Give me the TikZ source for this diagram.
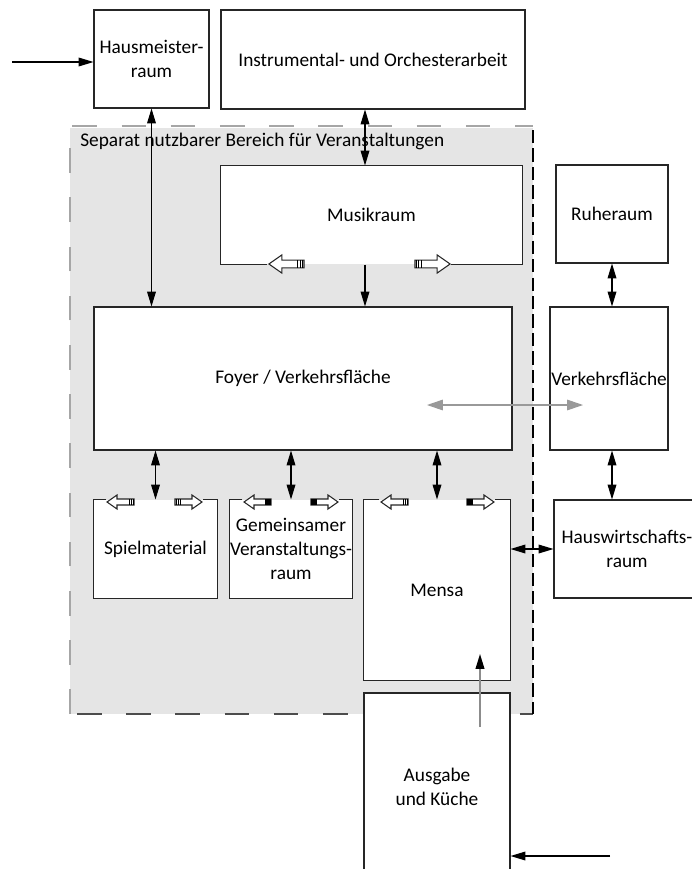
\documentclass[tikz,border=0pt]{standalone}
\usepackage{fontspec}
\setmainfont{Carlito}
\usetikzlibrary{arrows.meta}
\tikzset{
  room/.style 2 args={draw=black!85, line width=0.6pt, fill=white, inner sep=0pt, align=center,
    minimum width=#1*0.02cm, minimum height=#2*0.02cm},
  wall/.style={draw=black!85, line width=0.6pt},
  both/.style={line width=0.6pt, {Triangle[length=8.5pt,width=5pt]}-{Triangle[length=8.5pt,width=5pt]}},
  one/.style={line width=0.6pt, -{Triangle[length=8.5pt,width=5pt]}},
  gboth/.style={draw=black!40, line width=0.6pt, {Triangle[length=9pt,width=6pt]}-{Triangle[length=9pt,width=6pt]}},
  gone/.style={draw=black!45, line width=0.8pt, -{Triangle[length=8.5pt,width=5pt,color=black]}},
  doorh/.pic={
    \draw[wall, fill=white] (0,-3) -- (-17,-3) -- (-17,-7) -- (-27,0) -- (-17,7) -- (-17,3) -- (0,3) -- cycle;
    \foreach \t in {-1,-3,-5} \draw[line width=0.5pt] (\t,-3) -- (\t,3);
  },
  doors/.pic={
    \draw[wall, fill=white] (0,-3) -- (-17,-3) -- (-17,-7) -- (-27,0) -- (-17,7) -- (-17,3) -- (0,3) -- cycle;
    \fill (0,-3) rectangle (-6,3);
  }
}
\begin{document}
\begin{tikzpicture}[x=0.02cm, y=-0.02cm, font=\fontsize{11}{13.5}\selectfont]
\useasboundingbox (0,0) rectangle (692,869);
\clip (0,0) rectangle (692,869);
% separat nutzbarer Bereich
\fill[black!10] (70,128) rectangle (533,714);
\draw[black!35, line width=0.8pt, dash pattern=on 14pt off 14pt] (70,714) -- (70,126) -- (533,126);
\draw[black!70, line width=0.8pt, dash pattern=on 14pt off 14pt] (77,714) -- (533,714);
\draw[black, line width=0.8pt, dash pattern=on 7.5pt off 3pt] (533,130) -- (533,714);
\node[anchor=west, inner sep=0pt] (zone) at (80,141) {Separat nutzbarer Bereich für Veranstaltungen};

% Raeume
\node[room={115}{98}] (hm) at (151.5,59) {Hausmeister-\\raum};
\node[room={304}{99}] (in) at (373,59.5) {Instrumental- und Orchesterarbeit};
\node[room={301}{98}, draw=none] (mu) at (371.5,215) {Musikraum};
\node[room={112}{98}] (ru) at (612,214) {Ruheraum};
\node[room={418}{143}] (fo) at (303,378.5) {Foyer / Verkehrsfläche};
\node[room={118}{143}] (vk) at (609,378.5) {Verkehrsfläche};
\node[room={123}{98}, draw=none] (sp) at (155.5,549) {Spielmaterial};
\node[room={122}{98}, draw=none] (gv) at (291,549) {Gemeinsamer\\Veranstaltungs-\\raum};
\node[room={146}{180}, draw=none] (me) at (437,590) {Mensa};
\node[room={146}{98}] (hw) at (627,549) {Hauswirtschafts-\\raum};
\node[room={146}{187}] (ak) at (437,786.5) {Ausgabe\\und Küche};

% offene Waende
\draw[wall] (mu.south west) ++(47,0) -- (mu.south west) -- (mu.north west) -- (mu.north east) -- (mu.south east) -- ++(-72,0);
\draw[wall] (sp.north west) ++(13,0) -- (sp.north west) -- (sp.south west) -- (sp.south east) -- (sp.north east) -- ++(-15,0);
\draw[wall] (gv.north west) ++(13,0) -- (gv.north west) -- (gv.south west) -- (gv.south east) -- (gv.north east) -- ++(-14,0);
\draw[wall] (me.north west) ++(16,0) -- (me.north west) -- (me.south west) -- (me.south east) -- (me.north east) -- ++(-16,0);

% Tueren
\pic[scale=1.3] at (304,264) {doorh};
\pic[scale=1.3, xscale=-1] at (415,264) {doorh};
\pic at (134,502) {doorh};
\pic[xscale=-1] at (175,502) {doorh};
\pic at (271,502) {doors};
\pic[xscale=-1] at (311,502) {doors};
\pic at (408,502) {doorh};
\pic[xscale=-1] at (467,502) {doors};

% Verbindungen
\coordinate (e1) at (12,62);
\coordinate (e2) at (610,856);
\coordinate (g1) at (427,405);
\coordinate (g2) at (583,405);
\coordinate (g3) at (480,727);
\coordinate (g4) at (480,654);
\draw[one] (e1) -- (e1 -| hm.west);
\draw[one] (e2) -- (e2 -| ak.east);
\draw[both] (hm.south) -- (hm.south |- fo.north);
\draw[both] (in.south -| 365,0) -- (mu.north -| 365,0);
\draw[one] (mu.south -| 365,0) -- (fo.north -| 365,0);
\draw[both] (ru.south) -- (ru.south |- vk.north);
\draw[both] (sp.north |- fo.south) -- (sp.north);
\draw[both] (gv.north |- fo.south) -- (gv.north);
\draw[both] (me.north |- fo.south) -- (me.north);
\draw[both] (vk.south -| ru.south) -- (hw.north -| ru.south);
\draw[both] (hw.west -| me.east) -- (hw.west);
\draw[gboth] (g1) -- (g2);
\draw[gone] (g3) -- (g4);
\end{tikzpicture}
\end{document}
